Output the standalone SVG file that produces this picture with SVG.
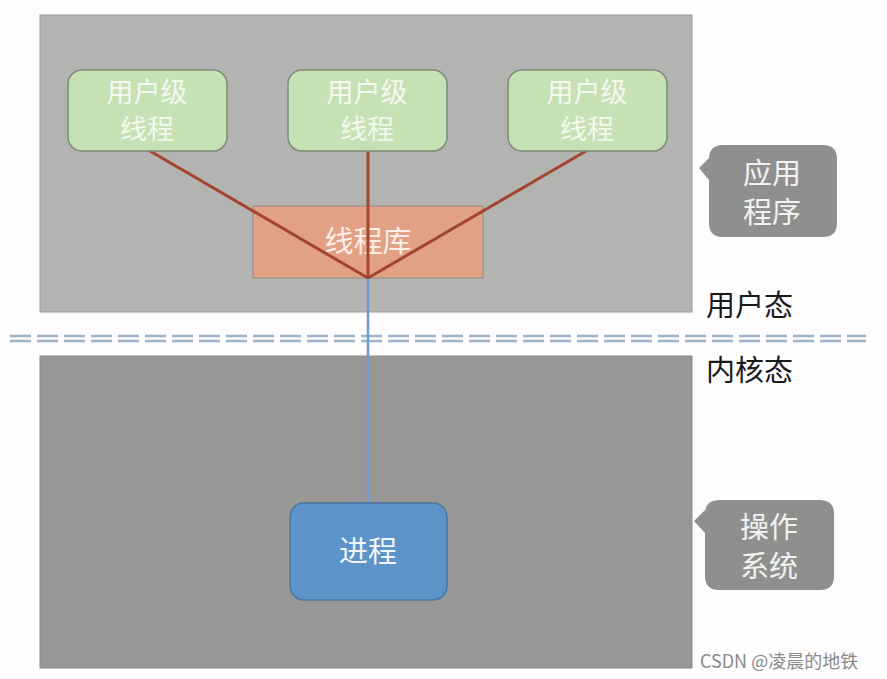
<svg xmlns="http://www.w3.org/2000/svg" width="887" height="679" viewBox="0 0 887 679">
<style>
.cjk{font-family:"Noto Sans CJK SC","Liberation Sans",sans-serif}
.ut rect{fill:#c6e2b5;stroke:#7f8a7a;stroke-width:1.5}
.ut text{fill:#f4f8ee;font-size:27px;text-anchor:middle}
.callout path{fill:#8f908e}
.callout text{fill:#f2f2f2;font-size:29px;text-anchor:middle}
.state{fill:#1a1a1a;font-size:29px}
.red{stroke:#a3452f;stroke-width:3;fill:none}
</style>
<rect width="887" height="679" fill="#fdfdfd"/>
<g id="user-space"><rect x="40" y="15" width="652" height="297" fill="#b3b4b2" stroke="#9a9a9a"/></g>
<g id="kernel-space"><rect x="40" y="356" width="652" height="312" fill="#979896" stroke="#8a8a8a"/></g>
<g id="divider">
<line x1="10" y1="336" x2="866" y2="336" stroke="#9fb4c8" stroke-width="2.5" stroke-dasharray="21 6"/>
<line x1="10" y1="341" x2="866" y2="341" stroke="#9fb4c8" stroke-width="2.5" stroke-dasharray="21 6"/>
</g>
<g id="lib"><rect x="253" y="206" width="230" height="72" fill="#e2a184" stroke="#8a8a8a" stroke-width="1"/>
<text x="368" y="252" class="cjk" font-size="29" fill="#fbeee6" text-anchor="middle">线程库</text></g>
<g id="connectors">
<line x1="368" y1="278" x2="368" y2="503" stroke="#6d9ccf" stroke-width="2.5"/>
<line class="red" x1="150" y1="151" x2="368" y2="278"/>
<line class="red" x1="368" y1="151" x2="368" y2="278"/>
<line class="red" x1="586" y1="151" x2="368" y2="278"/>
</g>
<g id="thread1" class="ut cjk"><rect x="68" y="70" width="159" height="81" rx="14"/><text x="147" y="102">用户级</text><text x="147" y="139">线程</text></g>
<g id="thread2" class="ut cjk"><rect x="288" y="70" width="159" height="81" rx="14"/><text x="367" y="102">用户级</text><text x="367" y="139">线程</text></g>
<g id="thread3" class="ut cjk"><rect x="508" y="70" width="159" height="81" rx="14"/><text x="587" y="102">用户级</text><text x="587" y="139">线程</text></g>
<g id="process"><rect x="290" y="503" width="157" height="97" rx="14" fill="#5c93c9" stroke="#4a77a3" stroke-width="1.5"/>
<text x="368" y="562" class="cjk" font-size="29" fill="#f2f6fb" text-anchor="middle">进程</text></g>
<g id="callout-app" class="callout cjk"><path d="M723 145 H823 Q837 145 837 159 V223 Q837 237 823 237 H723 Q709 237 709 223 V180 L699 168 L709 158 V159 Q709 145 723 145 Z"/><text x="772" y="184">应用</text><text x="772" y="223">程序</text></g>
<g id="callout-os" class="callout cjk"><path d="M719 500 H820 Q834 500 834 514 V576 Q834 590 820 590 H719 Q705 590 705 576 V533 L694 521 L705 510 V514 Q705 500 719 500 Z"/><text x="769" y="538">操作</text><text x="769" y="577">系统</text></g>
<g id="state-labels"><text x="706" y="316" class="state cjk">用户态</text><text x="706" y="381" class="state cjk">内核态</text></g>
<text x="700" y="668" class="cjk" font-size="18" fill="#8a8a8a">CSDN @凌晨的地铁</text>
</svg>
